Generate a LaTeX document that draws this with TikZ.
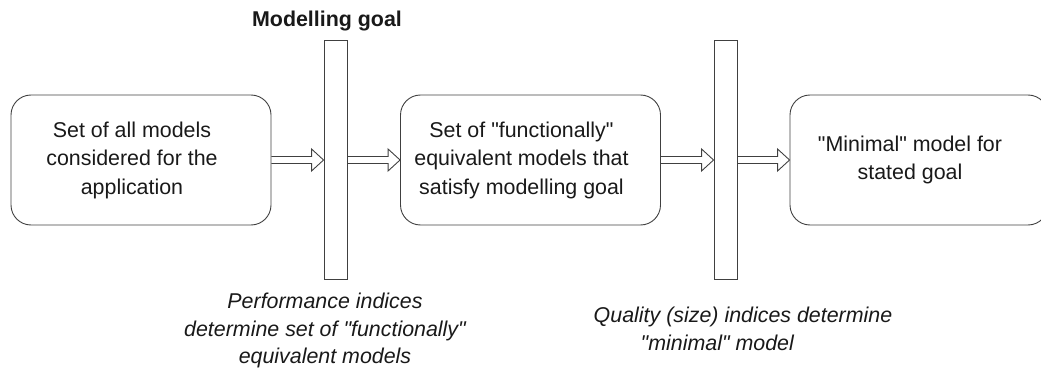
\documentclass[tikz,border=0pt]{standalone}
\usepackage{fontspec}
\setmainfont{Liberation Sans}
\usetikzlibrary{calc}

\begin{document}
\begin{tikzpicture}[x=1pt, y=1pt, line width=0.9pt, draw=black!75, text=black!90,
    main/.style = {draw, rounded corners=20pt, minimum width=260pt, minimum height=130pt, inner sep=0pt},
    inside/.style = {align=center, xshift=-9pt, inner sep=0pt, font=\fontsize{21.4}{28.5}\selectfont},
    gate/.style = {draw, minimum width=23pt, minimum height=239pt, inner sep=0pt},
    note/.style = {inner sep=0pt, font=\fontsize{21.4}{27.5}\selectfont\itshape},
    fat/.style = {to path={let \p1=(\tikztostart), \p2=(\tikztotarget) in
        (\x1,\y1+3.5pt) -- (\x2-12pt,\y1+3.5pt) -- (\x2-12pt,\y1+11pt) -- (\x2,\y1)
        -- (\x2-12pt,\y1-11pt) -- (\x2-12pt,\y1-3.5pt) -- (\x1,\y1-3.5pt)}}]
    \useasboundingbox (0,0) rectangle (1041,370);

    % insiemi di modelli e filtri
    \node[main, label={[inside]center:{Set of all models\\considered for the\\application}}] (all) at (141,210) {};
    \node[gate] (goal) at (335.5,210) {};
    \node[main, label={[inside]center:{Set of \textquotedbl functionally\textquotedbl\\equivalent models that\\satisfy modelling goal}}] (equiv) at (530.5,210) {};
    \node[gate] (size) at (725.5,210) {};
    \node[main, minimum width=258pt, label={[inside]center:{\textquotedbl Minimal\textquotedbl\ model for\\stated goal}}] (min) at (919,210) {};

    \node[anchor=base, inner sep=0pt, font=\fontsize{21.4}{27.5}\selectfont\bfseries] (title) at (327,343) {Modelling goal};
    \node[note, align=center] (perf) at (325,39.5) {Performance indices\\determine set of \textquotedbl functionally\textquotedbl\\equivalent models};
    \node[note, align=left] (qual) at (743,41) {Quality (size) indices determine\\\hspace*{47pt}\textquotedbl minimal\textquotedbl\ model};

    \draw (all.east) [fat] to (goal.west);
    \draw (goal.east) [fat] to (equiv.west);
    \draw (equiv.east) [fat] to (size.west);
    \draw (size.east) [fat] to (min.west);

\end{tikzpicture}
\end{document}
